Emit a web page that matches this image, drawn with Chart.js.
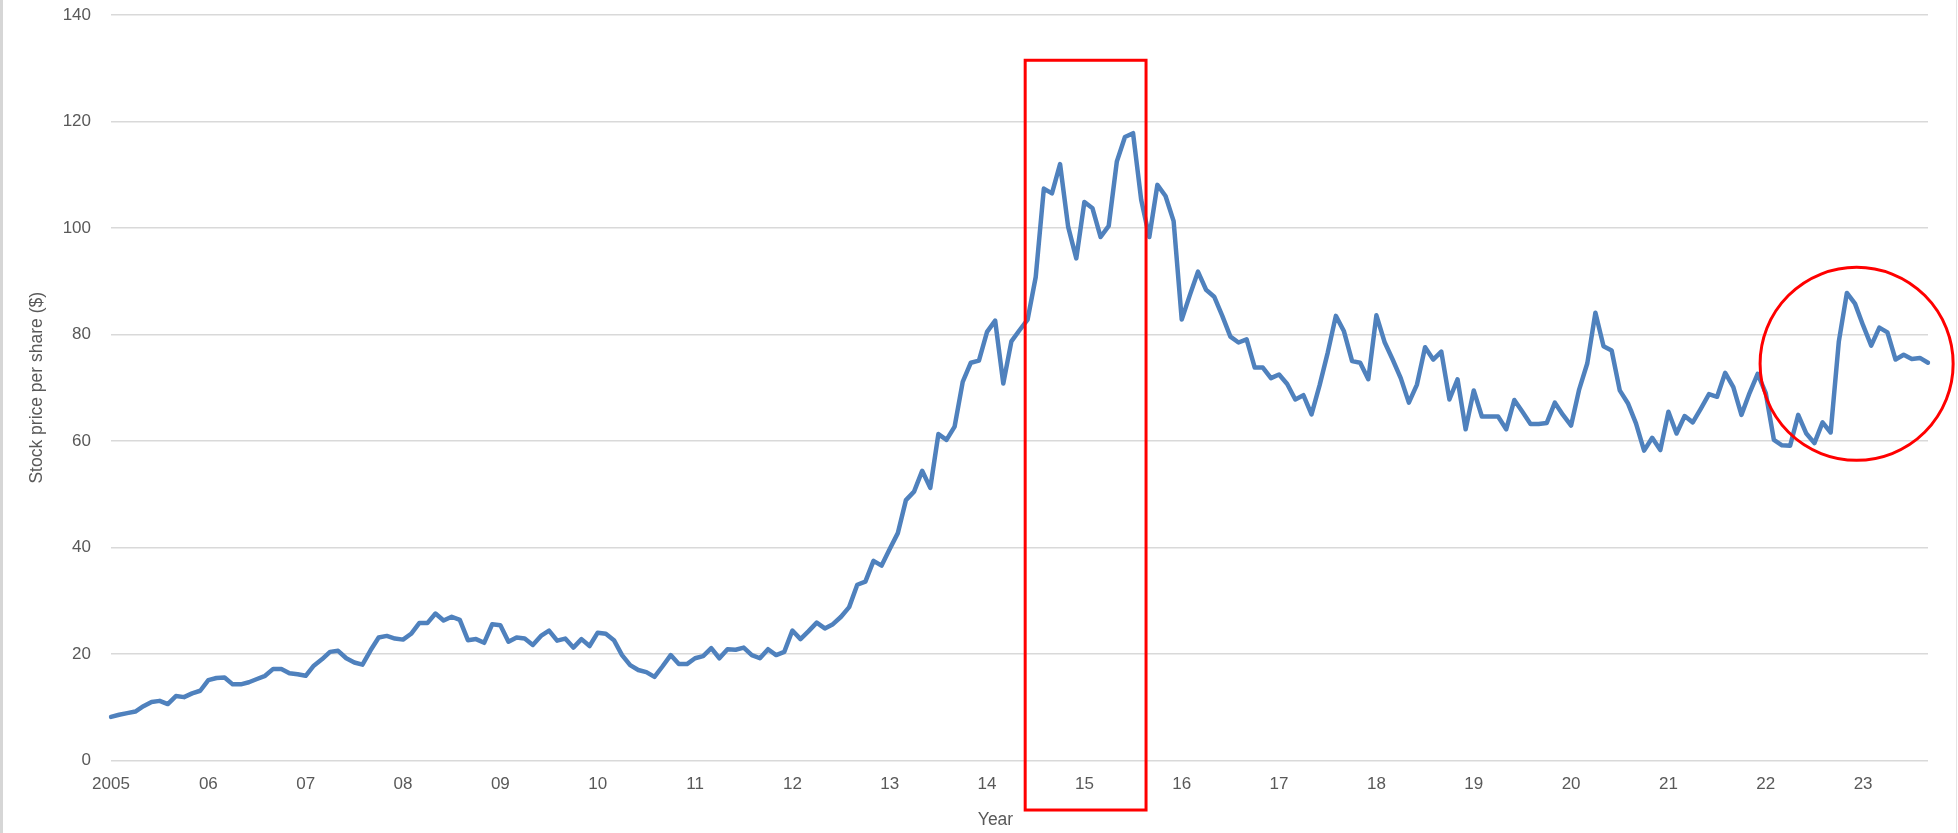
<!DOCTYPE html>
<html>
<head>
<meta charset="utf-8">
<script src="https://cdn.jsdelivr.net/npm/chart.js@4/dist/chart.umd.min.js"></script>
<style>
  html, body { margin: 0; padding: 0; background: #ffffff; }
  #wrap { position: relative; width: 1958px; height: 833px; }
  canvas { display: block; }
</style>
</head>
<body>
<div id="wrap"><canvas id="c" width="1958" height="833"></canvas></div>
<script>
// ---- Data (monthly closing price, Jan 2005 onward) ----
const yearLabels = ['2005','06','07','08','09','10','11','12','13','14','15','16','17','18','19','20','21','22','23'];
const monthNames = ['Jan','Feb','Mar','Apr','May','Jun','Jul','Aug','Sep','Oct','Nov','Dec'];

const prices2005_2009 = [
  8.2, 8.6, 8.9, 9.2, 10.2, 11.0, 11.2, 10.6, 12.1, 11.9, 12.6, 13.1,
  15.1, 15.5, 15.6, 14.3, 14.3, 14.7, 15.3, 15.9, 17.2, 17.2, 16.4, 16.2,
  15.9, 17.8, 19.0, 20.4, 20.6, 19.2, 18.4, 18.0, 20.7, 23.1, 23.4, 22.9,
  22.7, 23.8, 25.8, 25.8, 27.6, 26.3, 27.0, 26.4, 22.6, 22.8, 22.1, 25.6,
  25.4, 22.3, 23.1, 22.9, 21.7, 23.4, 24.4, 22.5, 22.9, 21.2, 22.8, 21.5
];
const prices2010_2014 = [
  24.0, 23.8, 22.6, 19.8, 17.9, 17.0, 16.6, 15.7, 17.7, 19.8, 18.1, 18.1,
  19.2, 19.6, 21.1, 19.2, 20.9, 20.8, 21.2, 19.8, 19.2, 20.9, 19.8, 20.4,
  24.4, 22.8, 24.3, 25.9, 24.8, 25.6, 27.0, 28.8, 33.0, 33.6, 37.5, 36.6,
  39.7, 42.7, 48.9, 50.5, 54.4, 51.2, 61.3, 60.2, 62.7, 71.1, 74.7, 75.1,
  80.5, 82.6, 70.8, 78.7, 80.8, 82.8, 90.8, 107.4, 106.5, 112.0, 100.2, 94.3
];
const prices2015_2019 = [
  104.9, 103.7, 98.3, 100.4, 112.5, 117.1, 117.8, 105.3, 98.3, 108.1, 106.0, 101.3,
  82.8, 87.4, 91.8, 88.4, 87.1, 83.5, 79.6, 78.5, 79.1, 73.8, 73.8, 71.8,
  72.5, 70.7, 67.8, 68.6, 65.0, 70.5, 76.6, 83.5, 80.6, 75.0, 74.7, 71.6,
  83.6, 78.6, 75.3, 71.8, 67.2, 70.6, 77.6, 75.3, 76.8, 67.8, 71.6, 62.2,
  69.5, 64.6, 64.6, 64.6, 62.2, 67.7, 65.5, 63.2, 63.2, 63.4, 67.2, 64.9
];
const prices2020_2023 = [
  62.9, 69.7, 74.6, 84.1, 77.8, 77.0, 69.5, 67.1, 63.3, 58.2, 60.6, 58.3,
  65.5, 61.4, 64.7, 63.5, 66.1, 68.8, 68.3, 72.8, 70.1, 64.9, 69.0, 72.6,
  69.0, 60.2, 59.2, 59.1, 64.9, 61.4, 59.6, 63.5, 61.6, 78.6, 87.8, 85.8,
  81.7, 77.9, 81.3, 80.4, 75.3, 76.2, 75.4, 75.6, 74.7
];
const prices = [].concat(prices2005_2009, prices2010_2014, prices2015_2019, prices2020_2023);

const categories = prices.map((_, i) => monthNames[i % 12] + ' ' + (2005 + Math.floor(i / 12)));

const yTicks = [0, 20, 40, 60, 80, 100, 120, 140];

// ---- Annotations (in data units: month index / price) ----
const boxMonths = [112.7, 127.6];
const boxValues = [131.5, -9.3];
const circleCenter = [215.2, 74.5];
const circleRadiusMonths = 11.9;

const FONT = "'Liberation Sans', Arial, sans-serif";
const GREY = '#595959';

const overlay = {
  id: 'overlay',
  afterDraw(chart) {
    const ctx = chart.ctx;
    const xs = chart.scales.x, ys = chart.scales.y, ca = chart.chartArea;
    ctx.save();
    // frame edges of the screenshot
    ctx.fillStyle = '#d6d6d6';
    ctx.fillRect(0, 0, 3, chart.height);
    ctx.fillStyle = '#e4e4e4';
    ctx.fillRect(1956, 0, 1, chart.height);

    // axis titles
    ctx.fillStyle = GREY;
    ctx.font = '17.5px ' + FONT;
    ctx.textAlign = 'center';
    ctx.textBaseline = 'middle';
    ctx.fillText('Year', (ca.left + ca.right) / 2 - 24, 820);
    ctx.translate(37, (ca.top + ca.bottom) / 2);
    ctx.rotate(-Math.PI / 2);
    ctx.fillText('Stock price per share ($)', 0, 0);
    ctx.setTransform(1, 0, 0, 1, 0, 0);

    // red rectangle
    ctx.strokeStyle = '#ff0000';
    ctx.lineWidth = 3;
    const x1 = xs.getPixelForValue(boxMonths[0]);
    const x2 = xs.getPixelForValue(boxMonths[1]);
    const y1 = ys.getPixelForValue(boxValues[0]);
    const y2 = ys.getPixelForValue(boxValues[1]);
    ctx.strokeRect(x1, y1, x2 - x1, y2 - y1);

    // red circle
    const cx = xs.getPixelForValue(circleCenter[0]);
    const cy = ys.getPixelForValue(circleCenter[1]);
    const r = xs.getPixelForValue(circleCenter[0] + circleRadiusMonths) - cx;
    ctx.beginPath();
    ctx.arc(cx, cy, r, 0, Math.PI * 2);
    ctx.stroke();
    ctx.restore();
  }
};

new Chart(document.getElementById('c'), {
  type: 'line',
  data: {
    labels: categories,
    datasets: [{
      data: prices,
      borderColor: '#4f81bd',
      borderWidth: 4.5,
      pointRadius: 0,
      tension: 0,
      fill: false,
      borderJoinStyle: 'round',
      borderCapStyle: 'round'
    }]
  },
  options: {
    responsive: false,
    animation: false,
    events: [],
    layout: { padding: { left: 0, right: 30, top: 15, bottom: 0 } },
    plugins: { legend: { display: false }, tooltip: { enabled: false } },
    scales: {
      x: {
        type: 'category',
        offset: false,
        grid: { display: false, drawTicks: false },
        border: { display: false },
        ticks: {
          autoSkip: false,
          maxRotation: 0,
          minRotation: 0,
          padding: 14,
          color: GREY,
          font: { family: FONT, size: 17 },
          callback: (v, i) => (i % 12 === 0 ? yearLabels[i / 12] : '')
        },
        afterFit(scale) { scale.height = 72.5; scale.paddingTop = 0; scale.paddingBottom = 0; }
      },
      y: {
        min: 0,
        max: 140,
        afterBuildTicks(scale) { scale.ticks = yTicks.map(v => ({ value: v })); },
        grid: { color: '#d9d9d9', lineWidth: 1.5, drawTicks: false },
        border: { display: false },
        ticks: {
          padding: 20,
          color: GREY,
          font: { family: FONT, size: 17 }
        },
        afterFit(scale) { scale.width = 111; scale.paddingTop = 0; scale.paddingBottom = 0; }
      }
    }
  },
  plugins: [overlay]
});
</script>
</body>
</html>
